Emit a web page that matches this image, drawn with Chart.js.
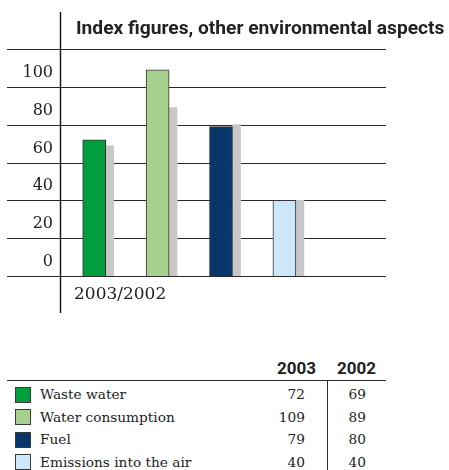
<!DOCTYPE html>
<html>
<head>
<meta charset="utf-8">
<script src="https://cdn.jsdelivr.net/npm/chart.js@4.4.0/dist/chart.umd.min.js"></script>
<style>
  body { margin: 0; background: #fff; }
  #wrap { position: relative; width: 449px; height: 470px; overflow: hidden; }
  #chart { position: absolute; left: 0; top: 0; }
  .t { position: absolute; white-space: nowrap; height: 20px; line-height: 20px; color: #222; }
  .serif { font-family: 'DejaVu Serif', serif; font-size: 13.7px; }
  .head { font-family: Roboto, sans-serif; font-weight: bold; font-size: 17px; }
  .swatch { position: absolute; width: 14px; height: 14px; border: 1px solid #3a3a3a; }
  .rule { position: absolute; background: #2a2a2a; }
</style>
</head>
<body>
<div id="wrap">
  <canvas id="chart" width="449" height="320" style="width:449px;height:320px"></canvas>
  <div id="table"></div>
</div>
<script>
var chartTitle = 'Index figures, other environmental aspects';
var periodLabel = '2003/2002';
var categories = ['Waste water', 'Water consumption', 'Fuel', 'Emissions into the air'];
var years = ['2003', '2002'];
var values2003 = [72, 109, 79, 40];
var values2002 = [69, 89, 80, 40];
var yTickLabels = [0, 20, 40, 60, 80, 100];

var barColors = ['#009e3d', '#a7cf8d', '#08366b', '#cce8f8'];
var prevColor = '#c8c8c8';
var inkColor = '#222';

// horizontal rules run past the plot on both sides, plus the vertical axis line
var frameLines = {
  id: 'frameLines',
  beforeDatasetsDraw: function (chart) {
    var ctx = chart.ctx;
    var y = chart.scales.y;
    ctx.save();
    ctx.strokeStyle = '#2a2a2a';
    ctx.lineWidth = 1.2;
    y.ticks.forEach(function (t) {
      var py = Math.round(y.getPixelForValue(t.value)) + 0.5;
      ctx.beginPath();
      ctx.moveTo(7, py);
      ctx.lineTo(386, py);
      ctx.stroke();
    });
    ctx.strokeStyle = '#111';
    ctx.lineWidth = 1.4;
    ctx.beginPath();
    ctx.moveTo(60.5, 12);
    ctx.lineTo(60.5, 313);
    ctx.stroke();
    ctx.restore();
  },
  afterDraw: function (chart) {
    var ctx = chart.ctx;
    ctx.save();
    ctx.font = 'bold 19.2px Roboto, sans-serif';
    ctx.fillStyle = inkColor;
    ctx.textBaseline = 'middle';
    ctx.fillText(chartTitle, chart.chartArea.left + 2, 29.5);
    ctx.restore();
  }
};

new Chart(document.getElementById('chart').getContext('2d'), {
  type: 'bar',
  data: {
    labels: categories,
    datasets: [{
      label: years[0],
      data: values2003,
      backgroundColor: barColors,
      borderColor: '#333',
      borderWidth: 1,
      barThickness: 23
    }, {
      label: years[1],
      data: values2002,
      backgroundColor: prevColor,
      borderWidth: 0,
      barThickness: 8
    }]
  },
  options: {
    responsive: false,
    animation: false,
    layout: { padding: { top: 49, right: 121.4, bottom: 15.6, left: 0 } },
    plugins: {
      legend: { display: false },
      title: { display: false },
      tooltip: { enabled: false }
    },
    scales: {
      x: {
        offset: true,
        grid: { display: false, drawTicks: false, tickLength: 0 },
        border: { display: false },
        ticks: { display: false },
        title: {
          display: true,
          text: periodLabel,
          align: 'start',
          color: inkColor,
          padding: { top: 8, bottom: 0 },
          font: { family: 'DejaVu Serif', size: 17 }
        }
      },
      y: {
        min: 0,
        max: 120,
        afterFit: function (scale) { scale.width = 74; },
        grid: { display: false, drawTicks: false, tickLength: 0 },
        border: { display: false },
        ticks: {
          stepSize: 20,
          padding: 21,
          labelOffset: -14,
          color: inkColor,
          font: { family: 'DejaVu Serif', size: 16 },
          callback: function (v) { return yTickLabels.indexOf(v) >= 0 ? String(v) : ''; }
        }
      }
    }
  },
  plugins: [frameLines]
});

// value table below the chart
var table = document.getElementById('table');
function addText(text, cls, y, left, right) {
  var d = document.createElement('div');
  d.className = 't ' + cls;
  d.textContent = text;
  d.style.top = (y - 10) + 'px';
  if (left != null) d.style.left = left + 'px';
  if (right != null) { d.style.right = (449 - right) + 'px'; d.style.textAlign = 'right'; }
  table.appendChild(d);
}
function addRule(x, y, w, h) {
  var d = document.createElement('div');
  d.className = 'rule';
  d.style.left = x + 'px';
  d.style.top = y + 'px';
  d.style.width = w + 'px';
  d.style.height = h + 'px';
  table.appendChild(d);
}

addText(years[0], 'head', 368, null, 316);
addText(years[1], 'head', 368, null, 376);
addRule(7, 380, 379, 1.2);
addRule(326.5, 380, 1.2, 90);

categories.forEach(function (name, i) {
  var cy = 394.3 + i * 22.4;
  var sw = document.createElement('div');
  sw.className = 'swatch';
  sw.style.left = '15px';
  sw.style.top = (cy - 7.5) + 'px';
  sw.style.background = barColors[i];
  table.appendChild(sw);
  addText(name, 'serif', cy, 40, null);
  addText(String(values2003[i]), 'serif', cy, null, 305);
  addText(String(values2002[i]), 'serif', cy, null, 366);
});
</script>
</body>
</html>
